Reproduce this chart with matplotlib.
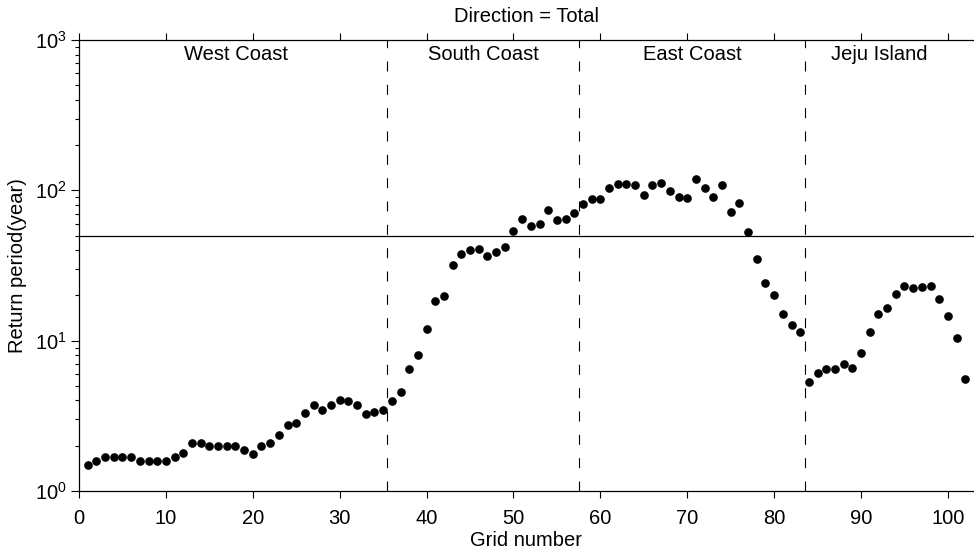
import matplotlib
matplotlib.use("Agg")
import matplotlib.pyplot as plt
from matplotlib.ticker import LogLocator, FixedLocator, NullLocator

plt.rcParams['font.family'] = ['Liberation Sans', 'DejaVu Sans']
plt.rcParams['mathtext.fontset'] = 'custom'
plt.rcParams['mathtext.rm'] = 'Liberation Sans'

grid = list(range(1, 103))
return_period = [
    1.49, 1.58, 1.68, 1.69, 1.69, 1.69, 1.58, 1.58, 1.59, 1.59,
    1.69, 1.78, 2.08, 2.07, 1.99, 1.99, 1.99, 1.99, 1.87, 1.77,
    1.99, 2.08, 2.36, 2.75, 2.85, 3.28, 3.76, 3.45, 3.76, 4.04,
    3.94, 3.76, 3.24, 3.35, 3.45, 3.94, 4.55, 6.5, 8.07, 12.0,
    18.3, 19.9, 32.1, 37.8, 39.8, 40.6, 36.7, 38.6, 41.9, 53.3,
    64.1, 58.1, 59.9, 73.6, 63.7, 64.4, 70.8, 80.7, 88.2, 87.7,
    104.0, 109.6, 110.8, 108.6, 93.6, 108.0, 112.5, 98.5, 90.3, 88.4,
    119.0, 103.0, 90.8, 109.0, 71.3, 82.8, 53.0, 34.7, 24.1, 20.0,
    15.1, 12.7, 11.5, 5.33, 6.12, 6.5, 6.5, 7.03, 6.58, 8.28,
    11.5, 15.1, 16.4, 20.5, 23.0, 22.3, 22.9, 23.0, 19.05, 14.6,
    10.4, 5.52,
]
threshold = 50
boundaries = [35.5, 57.5, 83.5]
regions = ["West Coast", "South Coast", "East Coast", "Jeju Island"]
region_x = [18.1, 46.6, 70.6, 92.1]

FS = 14.5
fig = plt.figure(figsize=(9.74, 5.54), dpi=100)
ax = fig.add_axes([79/974, 1 - 491/554, 1 - 79/974, (491 - 40)/554])

ax.plot(grid, return_period, 'o', color='black', markersize=5.2, linestyle='none')
ax.axhline(threshold, color='black', linewidth=0.9)
for b in boundaries:
    ax.axvline(b, color='black', linewidth=0.8, linestyle=(0, (9, 12)))

ax.set_yscale('log')
ax.set_ylim(1, 1000)
ax.set_xlim(0, 103)

ax.xaxis.set_major_locator(FixedLocator(list(range(0, 101, 10))))
ax.xaxis.set_minor_locator(NullLocator())
ax.yaxis.set_major_locator(LogLocator(base=10, numticks=10))
ax.yaxis.set_minor_locator(LogLocator(base=10, subs=range(2, 10), numticks=20))

ax.spines['right'].set_visible(False)
for s in ['left', 'bottom', 'top']:
    ax.spines[s].set_linewidth(0.9)

ax.tick_params(axis='x', which='major', direction='out', length=5, width=0.8,
               top=True, labeltop=False, labelsize=FS, pad=8)
ax.tick_params(axis='y', which='major', direction='out', length=6, width=0.8,
               right=False, labelsize=FS, pad=3)
ax.tick_params(axis='y', which='minor', direction='out', length=3, width=0.8, right=False)

for name, xr in zip(regions, region_x):
    ax.text(xr, 0.968, name, transform=ax.get_xaxis_transform(),
            ha='center', va='center', fontsize=FS)

fig.text(0.5 * (79 + 974) / 974, 1 - 17/554, "Direction = Total",
         ha='center', va='center', fontsize=FS)
ax.set_xlabel("Grid number", fontsize=FS)
ax.xaxis.set_label_coords(0.5, (491 - 531) / 451)
ax.set_ylabel("Return period(year)", fontsize=FS)
ax.yaxis.set_label_coords((27 - 79) / 895, 0.5)

fig.savefig("out.png", dpi=100)
